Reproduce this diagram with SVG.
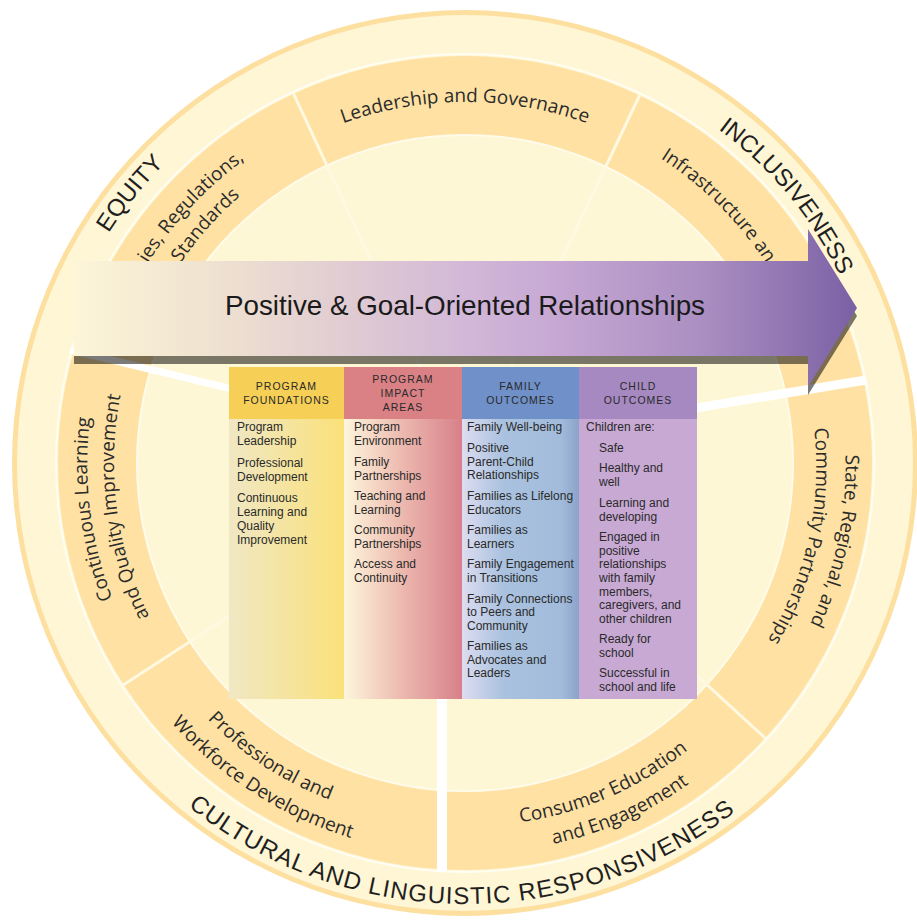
<svg xmlns="http://www.w3.org/2000/svg" width="917" height="921" viewBox="0 0 917 921">
<defs>
<style>
.ring{font-family:"Liberation Sans",Arial,sans-serif;font-size:24px;fill:#1f1f1f}
.band{font-family:"Open Sans","Noto Sans",sans-serif;font-size:19px;fill:#2b2b2b}
.hd{font-family:"Liberation Sans",Arial,sans-serif;font-size:10.5px;letter-spacing:1px;fill:#2a2a2a;text-anchor:middle}
.bd{font-family:"Liberation Sans",Arial,sans-serif;font-size:12px;fill:#2a2a2a}
.dv{stroke:#fff9e2;stroke-width:3;fill:none}
.ws{stroke:#ffffff;fill:none}
</style>
<linearGradient id="gArrow" gradientUnits="userSpaceOnUse" x1="74" y1="0" x2="857" y2="0">
<stop offset="0" stop-color="#fcf5d8"/>
<stop offset="0.17" stop-color="#f0e3d0"/>
<stop offset="0.33" stop-color="#e2ced2"/>
<stop offset="0.5" stop-color="#d2b8d8"/>
<stop offset="0.62" stop-color="#c6a7d3"/>
<stop offset="0.8" stop-color="#ab8fc2"/>
<stop offset="0.94" stop-color="#8a6fae"/>
<stop offset="1" stop-color="#7a60a4"/>
</linearGradient>
<linearGradient id="g1" x1="0" y1="0" x2="1" y2="0">
<stop offset="0" stop-color="#f0e7c4"/>
<stop offset="1" stop-color="#fae17a"/>
</linearGradient>
<linearGradient id="g2" x1="0" y1="0" x2="1" y2="0">
<stop offset="0" stop-color="#fef6dc"/>
<stop offset="0.5" stop-color="#ecb8ae"/>
<stop offset="1" stop-color="#d8808a"/>
</linearGradient>
<linearGradient id="g3" x1="0" y1="0" x2="1" y2="0">
<stop offset="0" stop-color="#dddcf0"/>
<stop offset="0.35" stop-color="#aac2df"/>
<stop offset="0.85" stop-color="#a2bbdb"/>
<stop offset="1" stop-color="#8ba3c9"/>
</linearGradient>
<path id="pLead" d="M465,824 A361,361 0 0 1 465,102 A361,361 0 0 1 465,824"/>
<path id="pEq" d="M795.3,728.9 A424,424 0 0 1 134.7,197.1 A424,424 0 0 1 795.3,728.9"/>
<path id="pInc" d="M141.9,731.3 A420,420 0 0 1 788.1,194.7 A420,420 0 0 1 141.9,731.3"/>
<path id="pCul" d="M468.8,22 A441,441 0 0 0 461.2,904 A441,441 0 0 0 468.8,22"/>
<path id="pPol1" d="M685.4,766.4 A375,375 0 0 1 244.6,159.6 A375,375 0 0 1 685.4,766.4"/>
<path id="pPol2" d="M689.8,729.9 A349,349 0 0 1 240.2,196.1 A349,349 0 0 1 689.8,729.9"/>
<path id="pInf" d="M269.4,767.6 A362,362 0 0 1 660.6,158.4 A362,362 0 0 1 269.4,767.6"/>
<path id="pSt1" d="M92.2,384.4 A381,381 0 0 1 837.8,541.6 A381,381 0 0 1 92.2,384.4"/>
<path id="pSt2" d="M121.1,388 A352,352 0 0 1 808.9,538 A352,352 0 0 1 121.1,388"/>
<path id="pCo1" d="M840.1,416.3 A378,378 0 0 1 89.9,509.7 A378,378 0 0 1 840.1,416.3"/>
<path id="pCo2" d="M813.1,417.8 A351,351 0 0 1 116.9,508.2 A351,351 0 0 1 813.1,417.8"/>
<path id="pCe1" d="M321,128.7 A364,364 0 0 0 609,797.3 A364,364 0 0 0 321,128.7"/>
<path id="pCe2" d="M305.6,104.9 A392,392 0 0 0 624.4,821.1 A392,392 0 0 0 305.6,104.9"/>
<path id="pPr1" d="M665.9,159.5 A364,364 0 0 0 264.1,766.5 A364,364 0 0 0 665.9,159.5"/>
<path id="pPr2" d="M676.8,133.1 A392,392 0 0 0 253.2,792.9 A392,392 0 0 0 676.8,133.1"/>
</defs>

<g id="wheel">
<circle cx="465" cy="463" r="453" fill="#fddfa0"/>
<circle cx="465" cy="463" r="448" fill="#fef6d5"/>
<circle cx="465" cy="463" r="409" fill="none" stroke="#fffdf2" stroke-width="2"/>
<circle cx="465" cy="463" r="407" fill="#fee1a3"/>
<circle cx="465" cy="463" r="329" fill="#fffbea"/>
<circle cx="465" cy="463" r="327" fill="#fef7d6"/>
</g>

<g id="connectors">
<line class="dv" x1="465" y1="463" x2="293.2" y2="92.9"/>
<line class="dv" x1="465" y1="463" x2="640" y2="94.5"/>
<line class="dv" x1="465" y1="463" x2="765.8" y2="738.6"/>
<line class="dv" x1="465" y1="463" x2="122.8" y2="685.2"/>
<line class="ws" stroke-width="9" x1="690" y1="409" x2="866" y2="380"/>
<line class="ws" stroke-width="7" x1="232" y1="389" x2="70" y2="350"/>
<rect x="437" y="690" width="10" height="182" fill="#ffffff"/>
</g>

<g id="seg-leadership"><text class="band"><textPath href="#pLead" startOffset="50%" text-anchor="middle">Leadership and Governance</textPath></text></g>
<g id="seg-policies">
<text class="band"><textPath href="#pPol1" startOffset="50%" text-anchor="end">ies, Regulations,</textPath></text>
<text class="band"><textPath href="#pPol2" startOffset="50%" text-anchor="end">Standards</textPath></text>
</g>
<g id="seg-infrastructure"><text class="band"><textPath href="#pInf" startOffset="50%" text-anchor="start">Infrastructure an</textPath></text></g>
<g id="seg-state">
<text class="band"><textPath href="#pSt1" startOffset="50%" text-anchor="middle">State, Regional, and</textPath></text>
<text class="band"><textPath href="#pSt2" startOffset="50%" text-anchor="middle">Community Partnerships</textPath></text>
</g>
<g id="seg-consumer">
<text class="band"><textPath href="#pCe1" startOffset="50%" text-anchor="middle">Consumer Education</textPath></text>
<text class="band"><textPath href="#pCe2" startOffset="50%" text-anchor="middle">and Engagement</textPath></text>
</g>
<g id="seg-professional">
<text class="band"><textPath href="#pPr1" startOffset="50%" text-anchor="middle">Professional and</textPath></text>
<text class="band"><textPath href="#pPr2" startOffset="50%" text-anchor="middle">Workforce Development</textPath></text>
</g>
<g id="seg-continuous">
<text class="band"><textPath href="#pCo1" startOffset="50%" text-anchor="middle">Continuous Learning</textPath></text>
<text class="band"><textPath href="#pCo2" startOffset="50%" text-anchor="middle">and Quality Improvement</textPath></text>
</g>

<g id="ring-equity"><text class="ring"><textPath href="#pEq" startOffset="50%" text-anchor="middle">EQUITY</textPath></text></g>
<g id="ring-inclusiveness"><text class="ring"><textPath href="#pInc" startOffset="50%" text-anchor="middle">INCLUSIVENESS</textPath></text></g>
<g id="ring-cultural"><text class="ring" letter-spacing="1.1"><textPath href="#pCul" startOffset="50%" text-anchor="middle">CULTURAL AND LINGUISTIC RESPONSIVENESS</textPath></text></g>

<g id="arrow">
<polygon points="74,269 808,269 808,237 857,316 808,395 808,364 74,364" fill="#000000" fill-opacity="0.52"/>
<polygon points="74,261 808,261 808,229 857,308 808,387 808,356 74,356" fill="url(#gArrow)"/>
<text x="225" y="315" font-family="'Liberation Sans',Arial,sans-serif" font-size="28" fill="#1a1a1a" textLength="480" lengthAdjust="spacingAndGlyphs">Positive &amp; Goal-Oriented Relationships</text>
</g>

<g id="col-foundations">
<rect x="229" y="419" width="115" height="280" fill="url(#g1)"/>
<rect x="229" y="367" width="115" height="52" fill="#f6cf57"/>
<text class="hd" x="286.5" y="390">PROGRAM</text>
<text class="hd" x="286.5" y="404">FOUNDATIONS</text>
<text class="bd" x="237" y="431">Program</text>
<text class="bd" x="237" y="445">Leadership</text>
<text class="bd" x="237" y="467">Professional</text>
<text class="bd" x="237" y="481">Development</text>
<text class="bd" x="237" y="502">Continuous</text>
<text class="bd" x="237" y="516">Learning and</text>
<text class="bd" x="237" y="530">Quality</text>
<text class="bd" x="237" y="544">Improvement</text>
</g>

<g id="col-impact">
<rect x="344" y="419" width="118" height="280" fill="url(#g2)"/>
<rect x="344" y="367" width="118" height="52" fill="#d98185"/>
<text class="hd" x="403" y="383">PROGRAM</text>
<text class="hd" x="403" y="397">IMPACT</text>
<text class="hd" x="403" y="411">AREAS</text>
<text class="bd" x="354" y="431">Program</text>
<text class="bd" x="354" y="445">Environment</text>
<text class="bd" x="354" y="466">Family</text>
<text class="bd" x="354" y="480">Partnerships</text>
<text class="bd" x="354" y="500">Teaching and</text>
<text class="bd" x="354" y="514">Learning</text>
<text class="bd" x="354" y="534">Community</text>
<text class="bd" x="354" y="548">Partnerships</text>
<text class="bd" x="354" y="568">Access and</text>
<text class="bd" x="354" y="582">Continuity</text>
</g>

<g id="col-family">
<rect x="462" y="419" width="117" height="280" fill="url(#g3)"/>
<rect x="462" y="367" width="117" height="52" fill="#6f90c8"/>
<text class="hd" x="520.5" y="390">FAMILY</text>
<text class="hd" x="520.5" y="404">OUTCOMES</text>
<text class="bd" x="467" y="431">Family Well-being</text>
<text class="bd" x="467" y="452">Positive</text>
<text class="bd" x="467" y="466">Parent-Child</text>
<text class="bd" x="467" y="479">Relationships</text>
<text class="bd" x="467" y="500">Families as Lifelong</text>
<text class="bd" x="467" y="514">Educators</text>
<text class="bd" x="467" y="534">Families as</text>
<text class="bd" x="467" y="548">Learners</text>
<text class="bd" x="467" y="568">Family Engagement</text>
<text class="bd" x="467" y="582">in Transitions</text>
<text class="bd" x="467" y="603">Family Connections</text>
<text class="bd" x="467" y="616">to Peers and</text>
<text class="bd" x="467" y="630">Community</text>
<text class="bd" x="467" y="650">Families as</text>
<text class="bd" x="467" y="664">Advocates and</text>
<text class="bd" x="467" y="677">Leaders</text>
</g>

<g id="col-child">
<rect x="579" y="419" width="118" height="280" fill="#c8a9d4"/>
<rect x="579" y="367" width="118" height="52" fill="#a689c1"/>
<text class="hd" x="638" y="390">CHILD</text>
<text class="hd" x="638" y="404">OUTCOMES</text>
<text class="bd" x="586" y="431">Children are:</text>
<text class="bd" x="599" y="452">Safe</text>
<text class="bd" x="599" y="472">Healthy and</text>
<text class="bd" x="599" y="486">well</text>
<text class="bd" x="599" y="507">Learning and</text>
<text class="bd" x="599" y="521">developing</text>
<text class="bd" x="599" y="541">Engaged in</text>
<text class="bd" x="599" y="555">positive</text>
<text class="bd" x="599" y="568">relationships</text>
<text class="bd" x="599" y="582">with family</text>
<text class="bd" x="599" y="596">members,</text>
<text class="bd" x="599" y="609">caregivers, and</text>
<text class="bd" x="599" y="623">other children</text>
<text class="bd" x="599" y="643">Ready for</text>
<text class="bd" x="599" y="657">school</text>
<text class="bd" x="599" y="677">Successful in</text>
<text class="bd" x="599" y="691">school and life</text>
</g>
</svg>
